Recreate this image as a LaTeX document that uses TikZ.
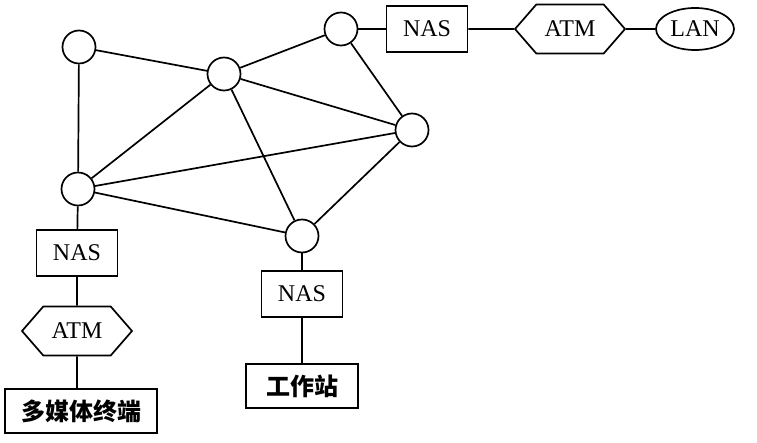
\documentclass[tikz,border=0pt]{standalone}
\usepackage{fontspec}
\setmainfont{Liberation Serif}
\newfontfamily\cjk{Noto Sans CJK SC}
\usetikzlibrary{shapes.geometric,shapes.symbols}

\begin{document}
\begin{tikzpicture}[
    x=1pt, y=-1pt,
    line width=1.7pt,
    every node/.style={draw, line width=1.7pt, inner sep=0pt, font=\fontsize{24}{28}\selectfont},
    switch/.style={circle, minimum size=33pt},
    nasbox/.style={rectangle, minimum width=81pt, minimum height=46pt},
    atmhex/.style={signal, signal to=west and east, signal pointer angle=98, minimum width=110pt, minimum height=49pt},
    lanell/.style={ellipse, minimum width=78pt, minimum height=42pt},
    termbox/.style={rectangle, minimum height=44pt, font=\fontsize{24}{28}\selectfont\cjk\bfseries}
]
    \useasboundingbox (0,0) rectangle (757,443);

    % switching nodes of the mesh
    \node [switch] (s1) at (79,47)   {};
    \node [switch] (s2) at (224,74)  {};
    \node [switch] (s3) at (341,29)  {};
    \node [switch] (s4) at (412,130) {};
    \node [switch] (s5) at (78,189)  {};
    \node [switch] (s6) at (302,236) {};

    \draw (s1) -- (s5);
    \draw (s1) -- (s2);
    \draw (s2) -- (s3);
    \draw (s2) -- (s4);
    \draw (s2) -- (s5);
    \draw (s2) -- (s6);
    \draw (s3) -- (s4);
    \draw (s4) -- (s5);
    \draw (s4) -- (s6);
    \draw (s5) -- (s6);

    % access towards the LAN
    \node [nasbox] (nas1) at (427,29) {NAS};
    \node [atmhex] (atm1) at (570,29) {ATM};
    \node [lanell] (lan)  at (695,29) {LAN};
    \draw (s3) -- (nas1);
    \draw (nas1) -- (atm1);
    \draw (atm1) -- (lan);

    % multimedia terminal
    \node [nasbox] (nas2) at (77,253) {NAS};
    \node [atmhex] (atm2) at (77,331) {ATM};
    \node [termbox, minimum width=152pt] (term) at (81,411) {多媒体终端};
    \draw (s5) -- (nas2);
    \draw (nas2) -- (atm2);
    \draw (atm2) -- (atm2 |- term.north);

    % workstation
    \node [nasbox] (nas3) at (302,294) {NAS};
    \node [termbox, minimum width=112pt] (ws) at (302,386) {工作站};
    \draw (s6) -- (nas3);
    \draw (nas3) -- (ws);
\end{tikzpicture}
\end{document}
